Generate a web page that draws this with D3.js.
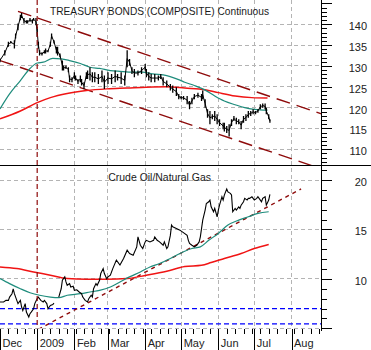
<!DOCTYPE html>
<html><head><meta charset="utf-8">
<script src="https://cdn.jsdelivr.net/npm/d3@7"></script>
<style>
html,body{margin:0;padding:0;background:#fff;}
svg{display:block;font-family:"Liberation Sans",Arial,sans-serif;}
</style></head><body>
<svg id="chart" width="371" height="350"></svg>
<script>
// ---------- DATA (dates as MM/DD; December = 2008, others = 2009) ----------
const bondTitle = "TREASURY BONDS (COMPOSITE) Continuous";
const ratioTitle = "Crude Oil/Natural Gas";

const bondDates = ["12/01","12/05","12/08","12/10","12/13","12/14","12/16","12/18","12/19","12/21","12/23","12/24","12/26","12/28","12/29","12/31",
 "01/01","01/02","01/03","01/05","01/07","01/08","01/10","01/12","01/13","01/15","01/17","01/18","01/20","01/22","01/23","01/25","01/27","01/28","01/30",
 "02/01","02/02","02/04","02/06","02/07","02/09","02/11","02/12","02/14","02/16","02/18","02/21","02/24","02/26",
 "03/01","03/04","03/07","03/09","03/12","03/15","03/17","03/19","03/21","03/23","03/26","03/29",
 "04/01","04/02","04/04","04/06","04/09","04/12","04/14","04/16","04/19","04/22","04/24","04/27","04/29",
 "05/01","05/03","05/06","05/08","05/10","05/12","05/15","05/18","05/19","05/21","05/23","05/25","05/27","05/29","05/31",
 "06/02","06/05","06/06","06/08","06/10","06/12","06/14","06/16","06/18","06/20","06/22","06/24","06/26","06/28","06/30",
 "07/02","07/04","07/06","07/08","07/10","07/11","07/13","07/14"];
const bondHigh = [131.8,133.8,135.8,136.0,136.2,137.8,140.2,142.3,142.7,141.5,141.0,141.0,141.5,141.2,141.5,141.5,
 139.4,135.8,133.8,133.3,133.8,134.2,133.8,135.8,137.8,136.2,134.6,134.6,133.0,131.3,130.1,130.1,129.7,127.7,127.3,
 128.5,127.7,126.9,127.7,126.9,126.1,128.5,128.9,129.7,128.5,128.5,128.1,128.9,127.7,
 128.5,128.1,128.9,128.1,128.5,127.7,133.8,131.7,129.7,129.3,128.9,129.7,
 130.5,129.3,128.5,128.1,128.1,127.7,128.1,127.3,126.5,125.7,125.3,124.9,123.3,
 122.8,122.8,122.8,121.6,122.4,123.3,123.6,123.3,124.1,122.0,119.6,119.2,118.4,119.2,118.4,
 117.2,116.4,116.4,115.6,116.0,117.2,118.0,117.6,117.2,116.8,118.0,118.4,119.2,119.2,119.6,
 119.2,119.6,120.8,121.0,121.0,120.0,118.4,117.2];
const bondLow = [130.9,132.5,134.6,135.4,134.2,136.6,138.6,141.0,141.5,140.2,140.2,140.2,140.6,140.2,140.9,139.8,
 137.0,134.2,132.5,132.5,133.0,133.0,133.3,134.6,136.6,135.4,133.0,132.5,132.1,128.9,128.9,129.3,128.5,126.1,126.1,
 126.9,126.5,125.7,126.1,125.3,124.5,126.9,126.9,126.5,126.1,126.1,125.7,126.1,124.5,
 125.7,125.7,126.1,126.5,125.7,125.3,129.7,130.1,128.1,127.3,127.7,128.1,
 128.9,127.3,126.5,126.1,126.1,126.5,126.9,125.3,124.9,124.1,123.6,122.8,122.0,
 122.0,121.9,120.8,119.6,120.8,122.0,122.4,121.6,122.0,120.0,117.6,116.0,117.2,116.8,116.0,
 115.6,114.8,114.3,113.9,113.1,115.6,116.8,116.0,116.0,114.8,116.4,116.8,117.6,118.0,118.4,
 118.4,118.8,119.6,120.0,119.6,118.4,117.2,116.4];

const bondMA50Dates = ["12/01","12/09","12/18","12/26","01/01","01/06","01/14","01/21","01/28","02/06","02/14","02/22","03/03","03/11","03/22","03/30","04/07","04/19","04/30","05/04","05/12","05/21","05/29","06/06","06/15","06/23","07/01","07/12"];
const bondMA50 = [119.7,123.3,126.5,129.4,130.7,130.9,131.8,131.7,131.3,130.6,129.7,129.4,128.9,128.7,128.5,128.5,128.1,127.7,126.6,126.1,125.3,124.2,122.8,121.6,120.7,120.0,119.6,119.4];
const bondMA200Dates = ["12/01","12/18","01/01","01/12","01/26","02/11","02/28","03/17","04/02","04/19","05/04","05/21","06/01","06/15","06/29","07/12"];
const bondMA200 = [117.3,119.2,121.2,122.4,123.4,124.1,124.5,124.7,124.9,125.0,124.7,124.3,123.6,122.8,122.4,122.3];

const channelUpperDates = ["12/16","08/26"];
const channelUpper = [143.1,118.5];
const channelLowerDates = ["12/01","08/26"];
const channelLower = [131.3,105.3];

const ratioDates = ["12/01","12/04","12/06","12/08","12/09","12/11","12/12","12/13","12/15","12/16","12/18","12/19","12/20","12/22","12/23","12/25","12/26","12/27","12/29","12/30",
 "01/01","01/02","01/04","01/06","01/07","01/09","01/10","01/12","01/14","01/15","01/17","01/19","01/21","01/22","01/24","01/25","01/26","01/28","01/29","01/31",
 "02/01","02/03","02/05","02/07","02/08","02/10","02/12","02/13","02/15","02/16","02/17","02/19","02/20","02/22","02/23","02/25","02/26","02/28",
 "03/01","03/03","03/05","03/08","03/11","03/14","03/17","03/19","03/22","03/25","03/26","03/28","03/30",
 "04/01","04/02","04/05","04/08","04/09","04/11","04/13","04/16","04/17","04/19","04/20","04/22","04/23","04/24","04/27","04/30",
 "05/02","05/06","05/07","05/08","05/10","05/12","05/14","05/16","05/17","05/19","05/21","05/22","05/24","05/25","05/26","05/28","05/29","05/31",
 "06/01","06/02","06/04","06/05","06/06","06/08","06/09","06/11","06/12","06/13","06/15","06/16","06/18","06/19","06/20","06/22","06/23","06/25","06/26","06/27","06/29","06/30",
 "07/01","07/03","07/04","07/06","07/07","07/08","07/10","07/11","07/13","07/14"];
const ratioValues = [7.66,7.66,7.83,7.83,8.16,8.5,9.0,8.5,7.83,7.5,7.83,7.15,6.8,7.5,6.64,6.14,6.48,6.64,6.98,7.5,
 8.0,8.16,7.83,7.66,7.83,7.5,6.98,7.32,7.4,7.55,null,8.16,9.0,9.86,10.2,9.69,9.35,9.52,9.18,9.25,
 8.84,8.9,8.67,8.5,8.16,7.83,7.66,8.0,8.34,8.16,9.0,9.52,9.35,9.86,10.54,11.04,10.54,10.0,
 10.2,10.37,11.04,11.9,11.4,12.06,12.9,12.57,12.4,13.24,14.25,13.4,13.07,
 13.74,13.9,13.74,13.9,14.25,13.9,13.74,13.4,13.74,13.07,13.24,14.4,15.44,15.27,15.1,14.93,
 14.76,14.4,13.9,13.58,13.4,13.24,13.4,13.74,14.25,15.94,16.96,17.63,17.8,17.97,17.29,16.79,17.13,16.28,
 16.96,17.46,18.31,17.97,18.48,19.1,18.8,18.65,18.48,16.79,17.13,16.96,17.29,17.13,17.46,17.8,18.14,17.97,18.14,18.14,18.31,18.14,
 17.97,18.14,18.31,17.97,17.8,18.14,18.31,17.46,17.97,18.55];

const ratioMA50Dates = ["12/01","12/09","12/18","12/26","01/03","01/12","01/19","01/26","02/06","02/14","02/22","03/03","03/11","03/19","03/28","04/05","04/13","04/22","04/30","05/04","05/10","05/17","05/24","06/01","06/09","06/18","06/26","07/04","07/13"];
const ratioMA50 = [10.03,9.52,9.0,8.6,8.34,8.16,8.1,8.34,8.5,8.67,8.84,9.18,9.69,10.2,10.7,11.2,11.55,12.06,12.57,12.8,13.07,13.24,13.9,14.6,15.44,15.94,16.28,16.62,16.79];
const ratioMA200Dates = ["12/01","12/15","12/29","01/12","01/26","02/11","02/28","03/17","04/02","04/19","05/04","05/18","05/26","06/06","06/20","07/01","07/13"];
const ratioMA200 = [11.2,11.04,10.7,10.37,10.03,9.96,9.96,10.03,10.37,10.78,11.25,11.38,11.65,12.06,12.57,13.07,13.48];

const ratioTrendDates = ["01/02","08/09"];
const ratioTrend = [4.9,19.1];
const ratioSupport = [7.0, 5.45];
const markerDate = "01/01";

const bondTicks = [110,115,120,125,130,135,140];
const ratioTicks = [10,15,20];

// ---------- SETUP ----------
const parseDay = s => { const [m, d] = s.split("/").map(Number); return new Date(m === 12 ? 2008 : 2009, m - 1, d); };
const zip = (ds, vs) => ds.map((d, i) => ({ date: parseDay(d), v: vs[i] }));

const plotRight = 321.5, sepY = 165.5, botY = 328.3;
const svg = d3.select("#chart");

const x = d3.scaleTime().domain([new Date(2008, 11, 1), new Date(2009, 7, 26)]).range([0, plotRight]);
const yTop = d3.scaleLinear().domain([106.23, 145.83]).range([165, 0]);
const yBot = d3.scaleLinear().domain([5, 21.47]).range([botY, sepY]);

const defs = svg.append("defs");
defs.append("clipPath").attr("id", "clipTop").append("rect").attr("x", 0).attr("y", 0).attr("width", plotRight).attr("height", sepY);
defs.append("clipPath").attr("id", "clipBot").append("rect").attr("x", 0).attr("y", sepY).attr("width", plotRight).attr("height", botY - sepY);

const gridColor = "#b4b4b4";
const grid = svg.append("g").attr("stroke", gridColor).attr("stroke-width", 1).attr("stroke-dasharray", "4,3").attr("shape-rendering", "crispEdges");
bondTicks.forEach(t => grid.append("line").attr("x1", 0).attr("x2", plotRight).attr("y1", yTop(t)).attr("y2", yTop(t)));
[5, ...ratioTicks].forEach(t => grid.append("line").attr("x1", 0).attr("x2", plotRight).attr("y1", yBot(t)).attr("y2", yBot(t)));
const months = d3.timeMonth.range(new Date(2008, 11, 1), new Date(2009, 7, 27));
months.filter(m => m.getMonth() !== 11 && m.getMonth() !== 0).forEach(m =>
  grid.append("line").attr("x1", x(m)).attr("x2", x(m)).attr("y1", 0).attr("y2", botY));

// ---------- TOP PANEL ----------
const gTop = svg.append("g").attr("clip-path", "url(#clipTop)");
const lineTop = d3.line().x(d => x(d.date)).y(d => yTop(d.v));
const chColor = "#8e0b0b";
gTop.append("path").datum(zip(channelUpperDates, channelUpper)).attr("d", lineTop)
  .attr("fill", "none").attr("stroke", chColor).attr("stroke-width", 1.4).attr("stroke-dasharray", "14,7");
gTop.append("path").datum(zip(channelLowerDates, channelLower)).attr("d", lineTop)
  .attr("fill", "none").attr("stroke", chColor).attr("stroke-width", 1.4).attr("stroke-dasharray", "14,7");
gTop.append("path").datum(zip(bondMA200Dates, bondMA200)).attr("d", lineTop.curve(d3.curveMonotoneX))
  .attr("fill", "none").attr("stroke", "#f01414").attr("stroke-width", 1.5);
gTop.append("path").datum(zip(bondMA50Dates, bondMA50)).attr("d", lineTop.curve(d3.curveMonotoneX))
  .attr("fill", "none").attr("stroke", "#1e8c7c").attr("stroke-width", 1.2);
lineTop.curve(d3.curveLinear);

const bars = bondDates.map((d, i) => ({ date: parseDay(d), hi: bondHigh[i], lo: bondLow[i] }));
gTop.append("path").datum(bars.map(b => ({ date: b.date, v: (b.hi + b.lo) / 2 }))).attr("d", lineTop)
  .attr("fill", "none").attr("stroke", "#000").attr("stroke-width", 1);
gTop.append("g").selectAll("line").data(bars).join("line")
  .attr("x1", d => x(d.date)).attr("x2", d => x(d.date))
  .attr("y1", d => yTop(d.hi)).attr("y2", d => yTop(d.lo))
  .attr("stroke", "#000").attr("stroke-width", 1.3);

// ---------- BOTTOM PANEL ----------
const gBot = svg.append("g").attr("clip-path", "url(#clipBot)");
const lineBot = d3.line().defined(d => d.v != null).x(d => x(d.date)).y(d => yBot(d.v));
ratioSupport.forEach(v => gBot.append("line").attr("x1", 0).attr("x2", plotRight).attr("y1", yBot(v)).attr("y2", yBot(v))
  .attr("stroke", "#0000ff").attr("stroke-width", 1.2).attr("stroke-dasharray", "5,3"));
gBot.append("path").datum(zip(ratioTrendDates, ratioTrend)).attr("d", lineBot)
  .attr("fill", "none").attr("stroke", chColor).attr("stroke-width", 1.4).attr("stroke-dasharray", "4,4");
gBot.append("path").datum(zip(ratioMA200Dates, ratioMA200)).attr("d", lineBot.curve(d3.curveMonotoneX))
  .attr("fill", "none").attr("stroke", "#f01414").attr("stroke-width", 1.5);
gBot.append("path").datum(zip(ratioMA50Dates, ratioMA50)).attr("d", lineBot.curve(d3.curveMonotoneX))
  .attr("fill", "none").attr("stroke", "#1e8c7c").attr("stroke-width", 1.2);
lineBot.curve(d3.curveLinear);
gBot.append("path").datum(zip(ratioDates, ratioValues)).attr("d", lineBot)
  .attr("fill", "none").attr("stroke", "#000").attr("stroke-width", 1.1);

// vertical marker
svg.append("line").attr("x1", x(parseDay(markerDate))).attr("x2", x(parseDay(markerDate)))
  .attr("y1", 0).attr("y2", botY).attr("stroke", chColor).attr("stroke-width", 1.2).attr("stroke-dasharray", "5,3");

// separator
svg.append("line").attr("x1", 0).attr("x2", 371).attr("y1", sepY).attr("y2", sepY)
  .attr("stroke", "#000").attr("stroke-width", 1).attr("shape-rendering", "crispEdges");

// ---------- RIGHT AXES ----------
const axG = svg.append("g").attr("transform", `translate(${plotRight},0)`).attr("shape-rendering", "crispEdges");
axG.append("line").attr("x1", 0).attr("x2", 0).attr("y1", 0).attr("y2", 331).attr("stroke", "#000");
function rightAxis(scale, minor, major, labels) {
  const gm = axG.append("g").call(d3.axisRight(scale).tickValues(minor).tickSize(5).tickFormat(""));
  gm.select(".domain").remove();
  const gM = axG.append("g").call(d3.axisRight(scale).tickValues(major).tickSize(10)
    .tickFormat(v => labels.includes(v) ? v : ""));
  gM.select(".domain").remove();
  gM.selectAll("text").attr("x", 45.5).attr("dy", 0).attr("y", 5.5).attr("text-anchor", "end")
    .attr("font-size", 11).attr("fill", "#222").attr("font-family", "Liberation Sans, Arial, sans-serif");
}
rightAxis(yTop, d3.range(107, 146), [110,115,120,125,130,135,140,145], bondTicks);
rightAxis(yBot, d3.range(6, 22), [5,10,15,20], ratioTicks);

// ---------- BOTTOM TIME AXIS ----------
const xg = svg.append("g").attr("transform", `translate(0,${botY + 1})`).attr("shape-rendering", "crispEdges");
const gw = xg.append("g").call(d3.axisBottom(x).tickValues(d3.timeMonday.range(new Date(2008, 11, 1), new Date(2009, 7, 26))).tickSize(5).tickFormat(""));
gw.select(".domain").remove();
const gmo = xg.append("g").call(d3.axisBottom(x).tickValues(months).tickSize(21)
  .tickFormat(d => d.getMonth() === 0 ? "2009" : d3.timeFormat("%b")(d)));
gmo.select(".domain").remove();
gmo.selectAll("text").attr("x", 2).attr("y", 17.5).attr("dy", 0).attr("text-anchor", "start")
  .attr("font-size", 11).attr("fill", "#222").attr("font-family", "Liberation Sans, Arial, sans-serif");

// ---------- TITLES ----------
svg.append("text").attr("x", 50).attr("y", 15.3).attr("font-size", 11).attr("fill", "#1a1a1a")
  .attr("textLength", 219).attr("lengthAdjust", "spacingAndGlyphs").text(bondTitle);
svg.append("text").attr("x", 108.3).attr("y", 180.5).attr("font-size", 11).attr("fill", "#1a1a1a")
  .attr("textLength", 102.7).attr("lengthAdjust", "spacingAndGlyphs").text(ratioTitle);
</script>
</body></html>
